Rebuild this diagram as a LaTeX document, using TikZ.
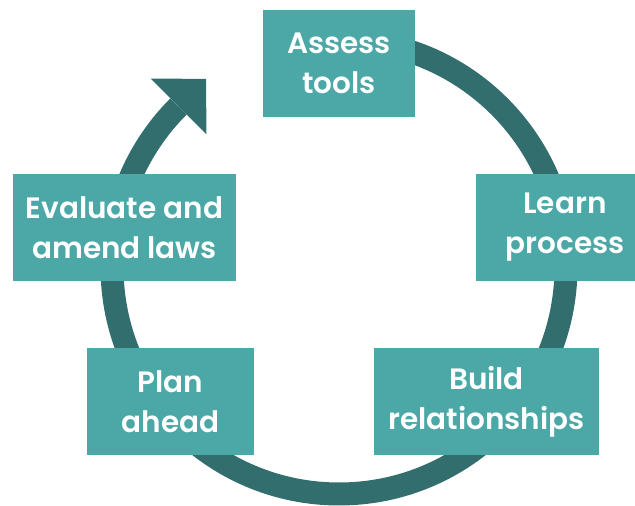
\documentclass[tikz,border=0pt]{standalone}
\usepackage{fontspec}
\setmainfont{Poppins}[BoldFont={Poppins SemiBold}]
\usetikzlibrary{arrows.meta}
\definecolor{ringteal}{HTML}{326E6D}
\definecolor{boxteal}{HTML}{4CA8A7}
\tikzset{stage/.style={
    fill=boxteal, text=white, inner sep=0pt,
    minimum width=#1, minimum height=107, align=center,
    font=\fontsize{29.5}{40}\selectfont\bfseries
    }
}

\begin{document}
\begin{tikzpicture}[x=1pt,y=1pt,>={Triangle[width=79pt,length=39pt,line width=0pt]}]
	\useasboundingbox (0,0) rectangle (635,506);
	\coordinate (hub) at (339,239);
	% the cycle ring, running clockwise behind the stages
	\draw [->,ringteal,line width=23pt] ([shift={(90:227)}]hub) arc[start angle=90,end angle=-225,radius=227] -- ++(45:39);
	\node[stage=152] (assess) at (339,442.5) {Assess\\tools};
	\node[stage=178] (learn) at (565,278.5) {Learn\\process};
	\node[stage=225] (build) at (486.5,104.5) {Build\\relationships};
	\node[stage=167] (plan) at (170.5,104.5) {Plan\\ahead};
	\node[stage=223] (evaluate) at (124.5,278.5) {Evaluate and\\amend laws};
\end{tikzpicture}
\end{document}
